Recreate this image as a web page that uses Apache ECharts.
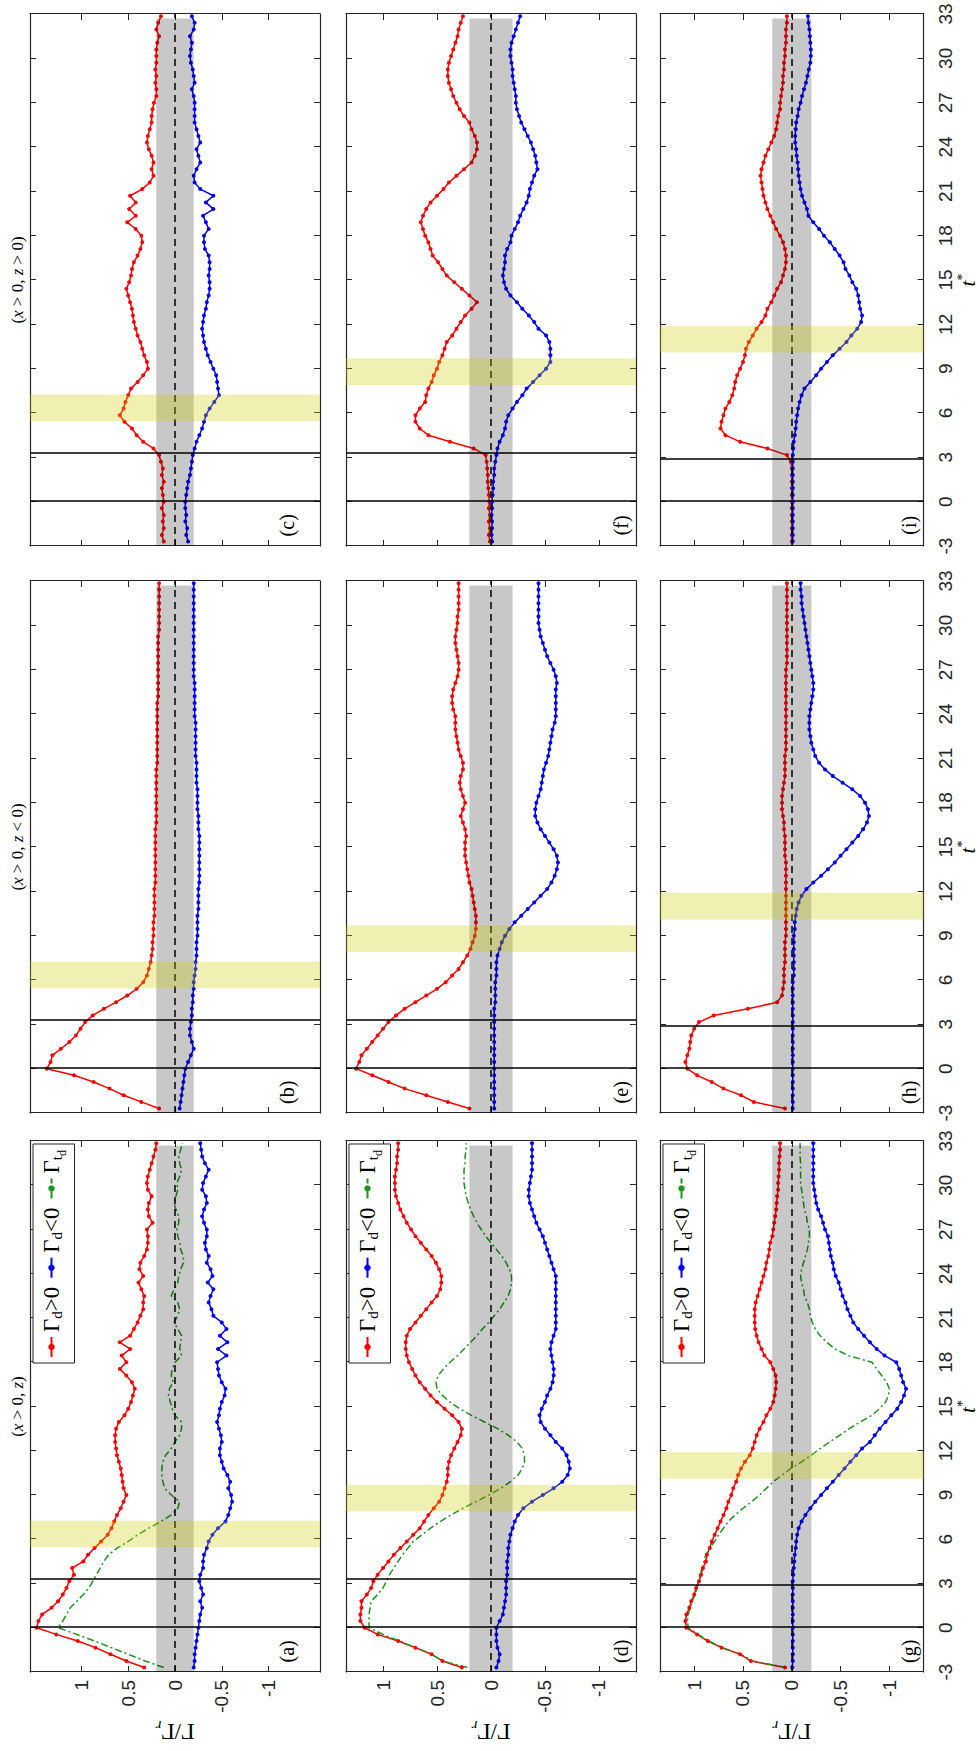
<!DOCTYPE html>
<html><head><meta charset="utf-8">
<script src="https://cdn.jsdelivr.net/npm/echarts@6/dist/echarts.min.js"></script>
<style>
html,body{margin:0;padding:0;background:#fff;overflow:hidden;width:979px;height:1751px;}
#wrap{position:absolute;left:0;top:0;width:1751px;height:979px;transform-origin:0 0;transform:translate(0px,1751px) rotate(-90deg);}
</style></head>
<body><div id="wrap"></div>
<script>
// ---------- data ----------
const tValues = [-2.7,-2.25,-1.8,-1.35,-0.9,-0.45,0,0.45,0.9,1.35,1.8,2.25,2.7,3.15,3.6,4.05,4.5,4.95,5.4,5.85,6.3,6.75,7.2,7.65,8.1,8.55,9,9.45,9.9,10.35,10.8,11.25,11.7,12.15,12.6,13.05,13.5,13.95,14.4,14.85,15.3,15.75,16.2,16.65,17.1,17.55,18,18.45,18.9,19.35,19.8,20.25,20.7,21.15,21.6,22.05,22.5,22.95,23.4,23.85,24.3,24.75,25.2,25.65,26.1,26.55,27,27.45,27.9,28.35,28.8,29.25,29.7,30.15,30.6,31.05,31.5,31.95,32.4,32.85];
const tTickStep = 3;
const gammaTicks = [-1,-0.5,0,0.5,1];
const panelLetters = ['(a)','(b)','(c)','(d)','(e)','(f)','(g)','(h)','(i)'];
const columnTitles = [
  '{n|(}{i|x}{n| > 0, }{i|z}{n|)}',
  '{n|(}{i|x}{n| > 0, }{i|z}{n| < 0)}',
  '{n|(}{i|x}{n| > 0, }{i|z}{n| > 0)}'
];
const seriesNames = ['Γd>0','Γd<0','Γtd'];
const yellowBands = [[5.45,7.25],[7.9,9.7],[10.1,11.9]];
const blackLines = [[0,3.3],[0,3.3],[0,2.9]];
const grayBand = [-3,32.7,-0.2,0.2];

const redA=[0.33,0.52,0.69,0.85,1.04,1.27,1.48,1.46,1.42,1.32,
1.25,1.20,1.16,1.13,1.08,1.10,0.98,0.93,0.86,0.79,
0.72,0.68,0.65,0.62,0.58,0.55,0.52,0.55,0.56,0.57,
0.58,0.60,0.62,0.63,0.64,0.64,0.63,0.60,0.54,0.50,
0.47,0.45,0.43,0.46,0.52,0.59,0.52,0.57,0.48,0.59,
0.48,0.44,0.40,0.37,0.34,0.34,0.33,0.36,0.39,0.34,
0.38,0.37,0.33,0.30,0.29,0.29,0.30,0.24,0.28,0.29,
0.28,0.25,0.29,0.30,0.29,0.27,0.25,0.23,0.21,0.20];
const blueA=[-0.20,-0.21,-0.21,-0.22,-0.23,-0.24,-0.25,-0.26,-0.27,-0.29,
-0.27,-0.30,-0.28,-0.26,-0.27,-0.30,-0.30,-0.31,-0.34,-0.36,
-0.40,-0.46,-0.54,-0.57,-0.59,-0.61,-0.60,-0.57,-0.59,-0.56,
-0.52,-0.50,-0.48,-0.48,-0.50,-0.49,-0.47,-0.45,-0.47,-0.48,
-0.50,-0.53,-0.54,-0.50,-0.47,-0.46,-0.45,-0.55,-0.46,-0.56,
-0.48,-0.55,-0.50,-0.41,-0.39,-0.36,-0.38,-0.41,-0.35,-0.40,
-0.38,-0.34,-0.36,-0.33,-0.32,-0.34,-0.34,-0.31,-0.29,-0.31,
-0.34,-0.33,-0.29,-0.30,-0.33,-0.36,-0.32,-0.29,-0.28,-0.27];
const greenA=[0.12,0.32,0.50,0.68,0.86,1.05,1.25,1.20,1.16,1.12,
1.05,0.98,0.92,0.88,0.84,0.80,0.76,0.71,0.62,0.50,
0.40,0.28,0.15,0.04,-0.03,-0.05,0.04,0.11,0.13,0.14,
0.14,0.13,0.10,0.04,0.00,-0.05,-0.07,-0.07,0.00,0.03,
0.05,0.07,0.06,0.02,0.04,0.03,0.00,-0.07,-0.05,-0.06,
-0.07,-0.03,0.01,-0.03,-0.05,-0.03,0.04,0.01,-0.03,-0.04,
-0.06,-0.09,-0.09,-0.06,-0.05,-0.03,-0.02,-0.04,-0.04,-0.01,
0.01,-0.01,-0.03,-0.02,-0.05,-0.07,-0.05,-0.04,-0.06,-0.08];

const redB=[0.17,0.36,0.55,0.70,0.87,1.08,1.37,1.33,1.31,1.22,
1.13,1.06,1.01,0.96,0.88,0.76,0.63,0.51,0.41,0.34,
0.30,0.28,0.26,0.25,0.24,0.24,0.23,0.23,0.23,0.22,
0.22,0.22,0.22,0.22,0.21,0.21,0.21,0.21,0.21,0.21,
0.21,0.21,0.21,0.20,0.20,0.20,0.20,0.20,0.20,0.20,
0.20,0.20,0.19,0.19,0.19,0.19,0.19,0.19,0.19,0.19,
0.19,0.19,0.18,0.18,0.18,0.18,0.18,0.18,0.18,0.18,
0.18,0.18,0.17,0.17,0.17,0.17,0.17,0.17,0.17,0.17];
const blueB=[-0.05,-0.06,-0.07,-0.08,-0.09,-0.10,-0.11,-0.14,-0.17,-0.20,
-0.18,-0.16,-0.16,-0.17,-0.18,-0.18,-0.19,-0.19,-0.20,-0.20,
-0.21,-0.22,-0.22,-0.23,-0.23,-0.23,-0.24,-0.24,-0.24,-0.24,
-0.25,-0.25,-0.25,-0.25,-0.26,-0.26,-0.26,-0.26,-0.26,-0.26,
-0.26,-0.26,-0.25,-0.25,-0.25,-0.24,-0.24,-0.24,-0.24,-0.23,
-0.23,-0.23,-0.23,-0.22,-0.22,-0.22,-0.22,-0.22,-0.22,-0.21,
-0.21,-0.21,-0.21,-0.21,-0.21,-0.20,-0.20,-0.20,-0.20,-0.20,
-0.20,-0.20,-0.20,-0.20,-0.20,-0.20,-0.20,-0.20,-0.20,-0.20];

const redC=[0.12,0.14,0.12,0.13,0.12,0.14,0.12,0.13,0.14,0.12,
0.14,0.13,0.15,0.17,0.23,0.34,0.41,0.46,0.54,0.59,
0.55,0.53,0.50,0.47,0.40,0.34,0.29,0.30,0.33,0.35,
0.37,0.40,0.42,0.44,0.45,0.46,0.48,0.50,0.52,0.49,
0.47,0.46,0.44,0.40,0.37,0.35,0.36,0.42,0.51,0.42,
0.49,0.42,0.48,0.35,0.27,0.23,0.25,0.23,0.25,0.28,
0.30,0.29,0.27,0.25,0.25,0.24,0.225,0.20,0.20,0.21,
0.20,0.21,0.20,0.20,0.20,0.19,0.17,0.20,0.18,0.15];
const blueC=[-0.14,-0.12,-0.13,-0.11,-0.12,-0.11,-0.11,-0.12,-0.13,-0.14,
-0.16,-0.17,-0.18,-0.19,-0.21,-0.23,-0.26,-0.29,-0.31,-0.33,
-0.37,-0.42,-0.47,-0.46,-0.45,-0.44,-0.41,-0.38,-0.35,-0.33,
-0.31,-0.30,-0.29,-0.30,-0.31,-0.33,-0.34,-0.36,-0.37,-0.37,
-0.36,-0.37,-0.37,-0.36,-0.32,-0.31,-0.31,-0.36,-0.33,-0.30,
-0.41,-0.33,-0.41,-0.27,-0.21,-0.20,-0.23,-0.27,-0.25,-0.23,
-0.27,-0.25,-0.23,-0.21,-0.21,-0.21,-0.21,-0.20,-0.18,-0.21,
-0.20,-0.19,-0.17,-0.16,-0.17,-0.18,-0.16,-0.20,-0.21,-0.18];

const redD=[0.27,0.45,0.55,0.70,0.86,1.05,1.17,1.21,1.21,1.20,
1.20,1.15,1.11,1.09,1.05,1.00,0.95,0.90,0.84,0.78,
0.72,0.66,0.62,0.58,0.53,0.48,0.45,0.43,0.41,0.40,
0.40,0.39,0.37,0.34,0.31,0.28,0.27,0.30,0.36,0.43,
0.50,0.56,0.61,0.66,0.70,0.73,0.76,0.78,0.79,0.79,
0.78,0.75,0.70,0.65,0.60,0.55,0.50,0.47,0.46,0.46,
0.48,0.51,0.55,0.60,0.65,0.70,0.74,0.78,0.81,0.84,
0.86,0.88,0.89,0.89,0.89,0.88,0.87,0.87,0.86,0.86];
const blueD=[-0.05,-0.07,-0.08,-0.06,-0.05,-0.05,-0.05,-0.08,-0.11,-0.12,
-0.13,-0.14,-0.14,-0.14,-0.15,-0.15,-0.15,-0.16,-0.16,-0.17,
-0.18,-0.20,-0.22,-0.25,-0.30,-0.38,-0.48,-0.58,-0.66,-0.71,
-0.73,-0.72,-0.70,-0.66,-0.60,-0.55,-0.50,-0.46,-0.45,-0.47,
-0.50,-0.52,-0.55,-0.57,-0.58,-0.58,-0.57,-0.56,-0.55,-0.56,
-0.58,-0.60,-0.60,-0.60,-0.60,-0.60,-0.60,-0.60,-0.60,-0.60,
-0.58,-0.56,-0.54,-0.52,-0.50,-0.48,-0.45,-0.42,-0.40,-0.38,
-0.36,-0.35,-0.35,-0.36,-0.37,-0.38,-0.38,-0.38,-0.38,-0.38];
const greenD=[0.22,0.45,0.55,0.70,0.85,1.00,1.13,1.13,1.13,1.12,
1.11,1.05,1.00,0.97,0.94,0.90,0.86,0.82,0.77,0.72,
0.64,0.56,0.47,0.37,0.26,0.14,0.02,-0.09,-0.18,-0.25,
-0.29,-0.31,-0.31,-0.29,-0.24,-0.16,-0.06,0.06,0.18,0.29,
0.38,0.45,0.50,0.51,0.49,0.44,0.38,0.31,0.25,0.19,
0.13,0.08,0.02,-0.03,-0.08,-0.12,-0.16,-0.18,-0.19,-0.19,
-0.17,-0.14,-0.10,-0.05,0.00,0.05,0.09,0.13,0.16,0.19,
0.21,0.23,0.24,0.25,0.25,0.25,0.24,0.24,0.23,0.23];

const redE=[0.20,0.40,0.60,0.80,0.95,1.10,1.25,1.22,1.20,1.15,
1.10,1.05,1.00,0.95,0.88,0.80,0.70,0.60,0.50,0.42,
0.36,0.30,0.26,0.22,0.19,0.17,0.15,0.14,0.14,0.14,
0.15,0.16,0.17,0.18,0.20,0.21,0.22,0.23,0.24,0.24,
0.24,0.23,0.24,0.26,0.28,0.26,0.24,0.26,0.28,0.29,
0.28,0.26,0.26,0.28,0.30,0.31,0.32,0.33,0.33,0.33,
0.35,0.36,0.36,0.35,0.33,0.31,0.30,0.30,0.31,0.32,
0.33,0.33,0.32,0.31,0.31,0.30,0.30,0.30,0.30,0.30];
const blueE=[-0.03,-0.03,-0.03,-0.03,-0.03,-0.03,-0.03,-0.03,-0.03,-0.03,
-0.03,-0.03,-0.03,-0.03,-0.03,-0.03,-0.04,-0.04,-0.04,-0.04,
-0.05,-0.05,-0.05,-0.06,-0.08,-0.10,-0.13,-0.17,-0.22,-0.28,
-0.34,-0.40,-0.46,-0.52,-0.56,-0.59,-0.61,-0.62,-0.61,-0.58,
-0.54,-0.50,-0.46,-0.43,-0.41,-0.41,-0.42,-0.44,-0.46,-0.47,
-0.48,-0.49,-0.51,-0.53,-0.54,-0.55,-0.56,-0.57,-0.59,-0.60,
-0.60,-0.60,-0.60,-0.60,-0.61,-0.60,-0.58,-0.55,-0.52,-0.50,
-0.48,-0.46,-0.45,-0.44,-0.44,-0.44,-0.44,-0.44,-0.44,-0.44];

const redF=[0.01,0.02,0.01,0.02,0.01,0.02,0.015,0.02,0.025,0.03,
0.03,0.035,0.04,0.05,0.16,0.38,0.58,0.66,0.70,0.70,
0.66,0.61,0.60,0.58,0.55,0.53,0.50,0.48,0.45,0.43,
0.41,0.36,0.32,0.28,0.24,0.18,0.13,0.20,0.27,0.34,
0.41,0.45,0.49,0.54,0.56,0.58,0.61,0.63,0.65,0.63,
0.60,0.56,0.50,0.44,0.39,0.32,0.25,0.18,0.15,0.13,
0.13,0.15,0.18,0.20,0.25,0.29,0.32,0.35,0.37,0.39,
0.40,0.40,0.39,0.37,0.35,0.33,0.31,0.30,0.28,0.26];
const blueF=[-0.01,-0.005,-0.01,-0.01,-0.005,-0.01,-0.01,-0.015,-0.02,-0.02,
-0.03,-0.03,-0.04,-0.05,-0.06,-0.08,-0.11,-0.13,-0.14,-0.16,
-0.20,-0.24,-0.29,-0.33,-0.39,-0.45,-0.51,-0.55,-0.55,-0.55,
-0.54,-0.51,-0.44,-0.40,-0.35,-0.29,-0.24,-0.18,-0.14,-0.12,
-0.11,-0.12,-0.13,-0.13,-0.15,-0.18,-0.19,-0.22,-0.25,-0.27,
-0.30,-0.33,-0.35,-0.36,-0.38,-0.40,-0.43,-0.42,-0.41,-0.39,
-0.37,-0.34,-0.31,-0.28,-0.26,-0.24,-0.23,-0.23,-0.22,-0.21,
-0.20,-0.20,-0.19,-0.18,-0.18,-0.19,-0.21,-0.23,-0.25,-0.27];

const redG=[0.07,0.42,0.53,0.72,0.86,0.97,1.08,1.09,1.08,1.05,
1.03,1.00,0.98,0.95,0.93,0.91,0.88,0.87,0.84,0.82,
0.79,0.76,0.73,0.70,0.67,0.65,0.62,0.60,0.57,0.55,
0.52,0.48,0.43,0.40,0.38,0.36,0.33,0.29,0.26,0.22,
0.19,0.175,0.165,0.16,0.165,0.19,0.22,0.28,0.31,0.34,
0.36,0.375,0.38,0.38,0.38,0.37,0.35,0.33,0.31,0.29,
0.27,0.26,0.24,0.23,0.22,0.20,0.19,0.18,0.17,0.16,
0.155,0.15,0.14,0.14,0.135,0.13,0.13,0.125,0.12,0.12];
const blueG=[-0.005,-0.01,-0.01,-0.01,-0.01,-0.01,-0.01,-0.01,-0.01,-0.01,
-0.01,-0.01,-0.01,-0.01,-0.015,-0.02,-0.025,-0.03,-0.04,-0.045,
-0.055,-0.07,-0.10,-0.14,-0.19,-0.24,-0.30,-0.36,-0.42,-0.48,
-0.54,-0.60,-0.66,-0.72,-0.80,-0.85,-0.90,-0.96,-1.02,-1.08,
-1.12,-1.15,-1.17,-1.14,-1.12,-1.10,-1.07,-0.95,-0.87,-0.80,
-0.74,-0.68,-0.63,-0.60,-0.57,-0.55,-0.52,-0.50,-0.48,-0.45,
-0.43,-0.42,-0.40,-0.39,-0.38,-0.37,-0.34,-0.32,-0.30,-0.27,
-0.25,-0.24,-0.23,-0.22,-0.22,-0.22,-0.22,-0.22,-0.22,-0.22];
const greenG=[0.05,0.40,0.52,0.71,0.85,0.96,1.06,1.07,1.06,1.04,
1.02,0.99,0.97,0.96,0.94,0.92,0.90,0.88,0.84,0.79,
0.75,0.70,0.65,0.58,0.50,0.41,0.33,0.26,0.19,0.10,
0.01,-0.10,-0.20,-0.29,-0.39,-0.49,-0.59,-0.70,-0.82,-0.90,
-0.96,-0.99,-1.00,-0.97,-0.92,-0.87,-0.82,-0.58,-0.44,-0.36,
-0.29,-0.24,-0.21,-0.19,-0.18,-0.16,-0.13,-0.12,-0.10,-0.09,
-0.10,-0.12,-0.14,-0.16,-0.17,-0.18,-0.18,-0.16,-0.15,-0.13,
-0.12,-0.11,-0.10,-0.09,-0.09,-0.09,-0.09,-0.085,-0.085,-0.085];

const redH=[0.07,0.39,0.52,0.70,0.82,0.97,1.07,1.09,1.07,1.05,
1.04,1.03,1.00,0.95,0.80,0.45,0.15,0.10,0.09,0.08,
0.08,0.08,0.07,0.07,0.07,0.07,0.06,0.06,0.06,0.06,
0.06,0.06,0.06,0.06,0.06,0.06,0.06,0.06,0.07,0.07,
0.07,0.07,0.08,0.08,0.09,0.10,0.10,0.10,0.09,0.08,
0.07,0.07,0.07,0.07,0.06,0.06,0.06,0.06,0.06,0.06,
0.06,0.06,0.06,0.06,0.06,0.06,0.06,0.05,0.05,0.05,
0.05,0.05,0.05,0.05,0.05,0.05,0.05,0.05,0.05,0.05];
const blueH=[-0.01,-0.01,-0.01,-0.01,-0.01,-0.01,-0.01,-0.01,-0.01,-0.01,
-0.01,-0.01,-0.01,-0.01,-0.01,-0.01,-0.01,-0.01,-0.01,-0.01,
-0.02,-0.02,-0.02,-0.02,-0.02,-0.02,-0.02,-0.03,-0.03,-0.04,
-0.05,-0.07,-0.10,-0.15,-0.22,-0.30,-0.37,-0.44,-0.50,-0.56,
-0.62,-0.68,-0.73,-0.77,-0.79,-0.78,-0.75,-0.70,-0.62,-0.52,
-0.42,-0.34,-0.28,-0.24,-0.22,-0.20,-0.19,-0.18,-0.18,-0.18,
-0.19,-0.20,-0.21,-0.22,-0.22,-0.21,-0.20,-0.19,-0.18,-0.17,
-0.16,-0.15,-0.14,-0.13,-0.12,-0.11,-0.10,-0.10,-0.09,-0.09];

const redI=[0,0,0,0,0,0,0,0,0,0,
0,0,0.01,0.05,0.25,0.53,0.68,0.73,0.72,0.70,
0.68,0.64,0.61,0.59,0.58,0.56,0.53,0.50,0.48,0.47,
0.44,0.40,0.36,0.31,0.27,0.25,0.21,0.18,0.15,0.11,
0.09,0.07,0.06,0.06,0.07,0.09,0.12,0.16,0.19,0.22,
0.25,0.27,0.29,0.30,0.31,0.32,0.31,0.29,0.27,0.24,
0.21,0.18,0.16,0.15,0.14,0.12,0.12,0.11,0.10,0.09,
0.09,0.08,0.08,0.07,0.07,0.06,0.06,0.06,0.05,0.05];
const blueI=[-0.01,-0.01,-0.01,-0.01,-0.01,-0.01,-0.01,-0.01,-0.01,-0.01,
-0.01,-0.01,-0.01,-0.01,-0.015,-0.02,-0.03,-0.04,-0.045,-0.055,
-0.065,-0.08,-0.10,-0.13,-0.19,-0.25,-0.30,-0.36,-0.42,-0.49,
-0.56,-0.61,-0.67,-0.71,-0.72,-0.70,-0.69,-0.68,-0.66,-0.62,
-0.59,-0.55,-0.53,-0.49,-0.44,-0.39,-0.33,-0.28,-0.22,-0.17,
-0.155,-0.13,-0.105,-0.09,-0.08,-0.07,-0.065,-0.06,-0.05,-0.045,
-0.035,-0.035,-0.04,-0.045,-0.06,-0.07,-0.09,-0.105,-0.125,-0.145,
-0.16,-0.175,-0.19,-0.195,-0.195,-0.19,-0.185,-0.18,-0.17,-0.165];

const panelData = [
  {red:redA, blue:blueA, green:greenA},
  {red:redB, blue:blueB},
  {red:redC, blue:blueC},
  {red:redD, blue:blueD, green:greenD},
  {red:redE, blue:blueE},
  {red:redF, blue:blueF},
  {red:redG, blue:blueG, green:greenG},
  {red:redH, blue:blueH},
  {red:redI, blue:blueI}
];

// ---------- layout (original, un-rotated figure) ----------
const W = 1751, H = 979;
const colLeft = [79, 638, 1205], colWidth = [531, 532, 532];
const rowTop = [30, 346, 660], rowHeight = [290, 290, 270];
const yLim = [1.55, 1.343, 1.35];
const axisColor = '#262626';
const sans = 'Liberation Sans, Arial, sans-serif';
const serif = 'Liberation Serif, DejaVu Serif, serif';

const chart = echarts.init(document.getElementById('wrap'), null, {renderer:'svg', width:W, height:H});

const grids=[], xAxes=[], yAxes=[], series=[], legends=[];
const zip = arr => tValues.map((t,i)=>[t, arr[i]]);

for (let r=0;r<3;r++) for (let c=0;c<3;c++) {
  const g = r*3+c;
  grids.push({left:colLeft[c], top:rowTop[r], width:colWidth[c], height:rowHeight[r], containLabel:false});
  const common = {gridIndex:g, type:'value', splitLine:{show:false},
    axisLine:{show:true, onZero:false, lineStyle:{color:axisColor, width:1.2}},
    axisTick:{show:true, inside:true, length:6, lineStyle:{color:axisColor, width:1}}};
  xAxes.push(Object.assign({}, common, {position:'bottom', min:-3, max:33, interval:tTickStep,
    axisLabel:{show:r===2, margin:12, color:axisColor, fontFamily:sans, fontSize:19},
    name: r===2 ? '{g|t}{s|*}' : '', nameLocation:'middle', nameGap:28,
    nameTextStyle:{rich:{g:{fontFamily:serif, fontStyle:'italic', fontSize:21, color:'#000', lineHeight:24},
                        s:{fontFamily:serif, fontSize:14, color:'#000', verticalAlign:'top', lineHeight:24}}}}));
  xAxes.push(Object.assign({}, common, {position:'top', min:-3, max:33, interval:tTickStep, axisLabel:{show:false}}));
  yAxes.push(Object.assign({}, common, {position:'left', min:-yLim[r], max:yLim[r],
    axisTick:{show:true, inside:true, length:6, customValues:gammaTicks, lineStyle:{color:axisColor, width:1}},
    axisLabel:{show:c===0, customValues:gammaTicks, margin:8, color:axisColor, fontFamily:sans, fontSize:19,
      formatter:v=>String(v)},
    name: c===0 ? '{g|Γ/Γ}{s|r}' : '', nameLocation:'middle', nameGap:46,
    nameTextStyle:{rich:{g:{fontFamily:serif, fontSize:23, color:'#000', lineHeight:26},
                        s:{fontFamily:serif, fontStyle:'italic', fontSize:15, color:'#000', verticalAlign:'bottom', lineHeight:26}}}}));
  yAxes.push(Object.assign({}, common, {position:'right', min:-yLim[r], max:yLim[r],
    axisTick:{show:true, inside:true, length:6, customValues:gammaTicks, lineStyle:{color:axisColor, width:1}},
    axisLabel:{show:false}}));

  const d = panelData[g];
  const lim = yLim[r];
  series.push({
    name: seriesNames[0], type:'line', xAxisIndex:2*g, yAxisIndex:2*g, data: zip(d.red),
    symbol:'circle', symbolSize:4, color:'#ff0000', lineStyle:{width:1.5, color:'#ff0000'},
    itemStyle:{color:'#ff0000'}, animation:false, silent:true, z:2,
    markArea:{silent:true, z:10, data:[
      [{xAxis:grayBand[0], yAxis:grayBand[2], itemStyle:{color:'rgba(0,0,0,0.215)'}}, {xAxis:grayBand[1], yAxis:grayBand[3]}],
      [{xAxis:yellowBands[r][0], yAxis:-lim, itemStyle:{color:'rgba(204,204,0,0.3)'}}, {xAxis:yellowBands[r][1], yAxis:lim}]
    ]},
    markLine:{silent:true, symbol:['none','none'], label:{show:false}, z:6, animation:false, data:[
      {yAxis:0, lineStyle:{color:'#000', width:1.5, type:[7,5]}},
      {xAxis:blackLines[r][0], lineStyle:{color:'#000', width:1.6, type:'solid'}},
      {xAxis:blackLines[r][1], lineStyle:{color:'#000', width:1.6, type:'solid'}}
    ]}
  });
  series.push({
    name: seriesNames[1], type:'line', xAxisIndex:2*g, yAxisIndex:2*g, data: zip(d.blue),
    symbol:'circle', symbolSize:4, color:'#0000ff', lineStyle:{width:1.5, color:'#0000ff'},
    itemStyle:{color:'#0000ff'}, animation:false, silent:true, z:2
  });
  if (d.green) {
    series.push({
      name: seriesNames[2], type:'line', xAxisIndex:2*g, yAxisIndex:2*g, data: zip(d.green),
      symbol:'none', showSymbol:false, color:'#1c951c', lineStyle:{width:1.5, color:'#1c951c', type:[7,3,2,3]},
      animation:false, silent:true, z:2
    });
    legends.push({
      data: seriesNames, orient:'horizontal', right: W - 607, top: rowTop[r] + 3,
      itemWidth:20, itemHeight:8, itemGap:8, padding:[7,6,7,5],
      borderColor:axisColor, borderWidth:1, backgroundColor:'#fff', borderRadius:0,
      selectedMode:false,
      formatter: n => n==='Γd>0' ? '{g|Γ}{s|d}{g|>0}' : (n==='Γd<0' ? '{g|Γ}{s|d}{g|<0}' : '{g|Γ}{s|t}{ss|d}'),
      textStyle:{rich:{
        g:{fontFamily:serif, fontSize:23, color:'#000', lineHeight:32},
        s:{fontFamily:serif, fontSize:15, color:'#000', verticalAlign:'bottom', lineHeight:32, padding:[0,0,3,0]},
        ss:{fontFamily:serif, fontSize:12, color:'#000', verticalAlign:'bottom', lineHeight:32}
      }}
    });
  }
}

chart.setOption({
  animation:false,
  backgroundColor:'#fff',
  grid:grids, xAxis:xAxes, yAxis:yAxes, series:series, legend:legends
});

// texts positioned from the grids through the library's coordinate system
const elements = [];
for (let c=0;c<3;c++) {
  elements.push({type:'text', x: colLeft[c] + colWidth[c]/2, y: 17, silent:true,
    style:{text: columnTitles[c], align:'center', verticalAlign:'middle',
      rich:{n:{fontFamily:serif, fontSize:17, fill:'#000'}, i:{fontFamily:serif, fontStyle:'italic', fontSize:17, fill:'#000'}}}});
}
for (let r=0;r<3;r++) for (let c=0;c<3;c++) {
  const g=r*3+c;
  const p = chart.convertToPixel({gridIndex:g}, [-1.6, -1.2]);
  elements.push({type:'text', x:p[0], y:p[1], silent:true,
    style:{text: panelLetters[g], align:'center', verticalAlign:'middle', fontFamily:serif, fontSize:20, fill:'#000'}});
}
chart.setOption({graphic:{elements}});
</script>
</body></html>
